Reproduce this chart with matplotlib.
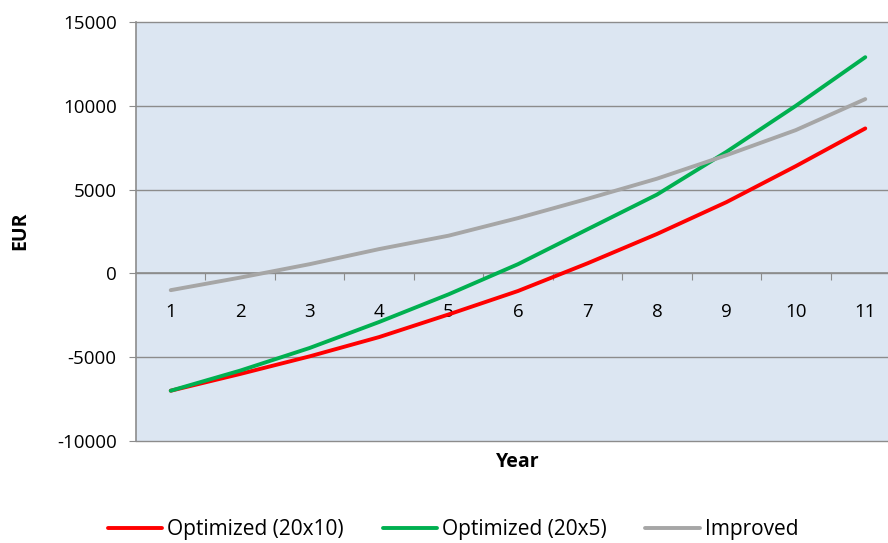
import matplotlib
matplotlib.use("Agg")
import matplotlib.pyplot as plt
from matplotlib.ticker import FixedLocator, NullFormatter, FixedFormatter

years = [1, 2, 3, 4, 5, 6, 7, 8, 9, 10, 11]
year_labels = [str(y) for y in years]
opt_20x10 = [-7000, -6000, -4950, -3800, -2450, -1050, 600, 2350, 4250, 6400, 8650]
opt_20x5 = [-7000, -5800, -4450, -2900, -1250, 550, 2630, 4700, 7250, 10000, 12900]
improved = [-1000, -250, 550, 1450, 2250, 3300, 4450, 5650, 7050, 8550, 10400]
series_names = ["Optimized (20x10)", "Optimized (20x5)", "Improved"]
y_ticks = [-10000, -5000, 0, 5000, 10000, 15000]

plt.rcParams['font.family'] = ['Open Sans', 'DejaVu Sans']
FS = 13.5
LFS = 15

fig = plt.figure(figsize=(8.88, 5.43), dpi=100)
ax = fig.add_axes([136/888, 1-441/543, 764/888, (441-22)/543])
ax.set_facecolor('#DCE6F2')

grid_c = '#8C8C8C'
for v in y_ticks:
    ax.axhline(v, color=grid_c, lw=1.0, zorder=1, clip_on=False)

LW = 2.8
ax.plot(years, opt_20x10, color='#FF0000', lw=LW, label=series_names[0], zorder=3, solid_capstyle='round')
ax.plot(years, opt_20x5, color='#00B050', lw=LW, label=series_names[1], zorder=3, solid_capstyle='round')
ax.plot(years, improved, color='#A6A6A6', lw=LW, label=series_names[2], zorder=3, solid_capstyle='round')

ax.set_xlim(0.5, 11.5)
ax.set_ylim(-10000, 15000)

for s in ['top', 'right']:
    ax.spines[s].set_visible(False)
ax.spines['left'].set_color(grid_c)
ax.spines['left'].set_linewidth(1.2)
ax.spines['bottom'].set_position(('data', 0))
ax.spines['bottom'].set_color(grid_c)
ax.spines['bottom'].set_linewidth(1.2)

ax.set_yticks(y_ticks)
ax.set_yticklabels([str(v) for v in y_ticks], fontsize=FS)
ax.tick_params(axis='y', length=5, color=grid_c, pad=9)

ax.xaxis.set_major_locator(FixedLocator([x + 0.5 for x in years[:-1]] + [11.5]))
ax.xaxis.set_major_formatter(NullFormatter())
ax.xaxis.set_minor_locator(FixedLocator(years))
ax.xaxis.set_minor_formatter(FixedFormatter(year_labels))
ax.tick_params(axis='x', which='major', length=5, color=grid_c, direction='out')
ax.tick_params(axis='x', which='minor', length=0, pad=21, labelsize=FS)

fig.text(20/888, 1-231/543, 'EUR', rotation=90, ha='center', va='center', fontsize=14, fontweight='bold')
fig.text(518/888, 1-462/543, 'Year', ha='center', va='center', fontsize=14, fontweight='bold')

leg = fig.legend(loc='center', bbox_to_anchor=(453/888, 1-530/543), ncol=3, frameon=False,
                 fontsize=LFS, handlelength=2.6, handletextpad=0.24, columnspacing=1.87)

fig.savefig('out.png', dpi=100)
